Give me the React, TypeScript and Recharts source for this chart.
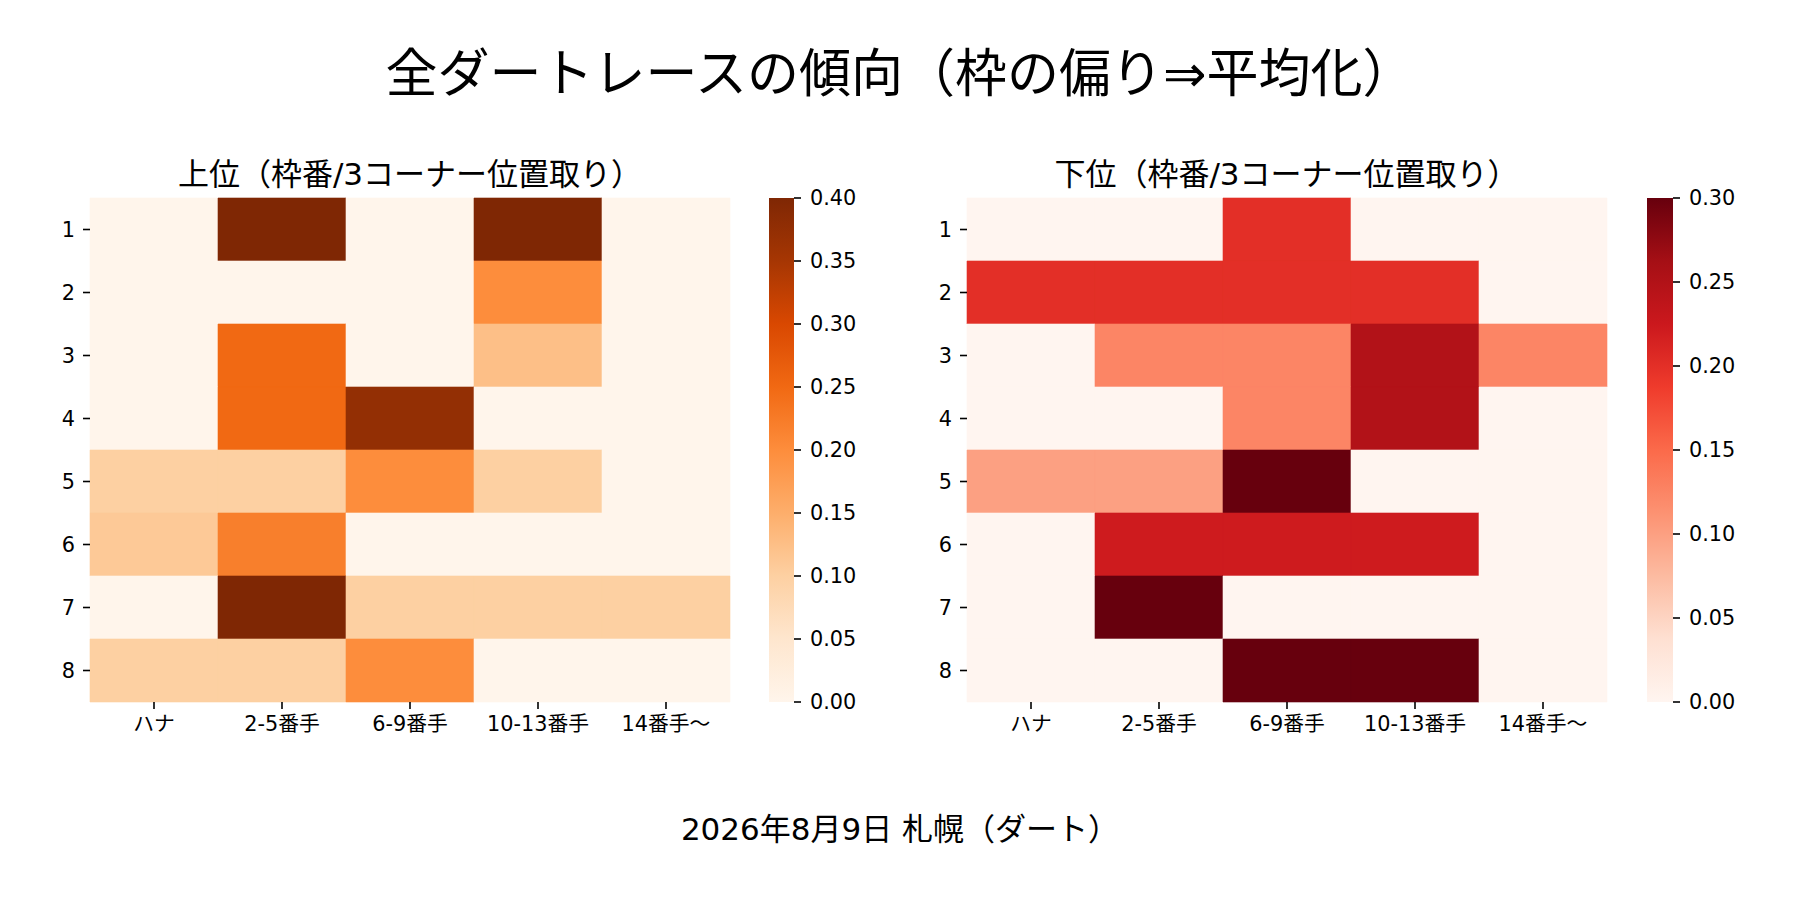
import React from 'react';
import { ScatterChart, Scatter, XAxis, YAxis, ReferenceArea, BarChart, Bar } from 'recharts';

// ---- categories / tick labels ----
const positionLabels = ['ハナ', '2-5番手', '6-9番手', '10-13番手', '14番手〜'];
const gateLabels = ['1', '2', '3', '4', '5', '6', '7', '8'];
const topTicks = [0, 0.05, 0.1, 0.15, 0.2, 0.25, 0.3, 0.35, 0.4];
const bottomTicks = [0, 0.05, 0.1, 0.15, 0.2, 0.25, 0.3];
const topMax = 0.4;
const bottomMax = 0.3;

// ---- 上位 values (rows = 枠番 1..8, cols = position) ----
const topGate1 = [0, 0.4, 0, 0.4, 0];
const topGate2 = [0, 0, 0, 0.2, 0];
const topGate3 = [0, 0.25, 0, 0.125, 0];
const topGate4 = [0, 0.25, 0.375, 0, 0];
const topGate5 = [0.1, 0.1, 0.2, 0.1, 0];
const topGate6 = [0.11, 0.22, 0, 0, 0];
const topGate7 = [0, 0.4, 0.1, 0.1, 0.1];
const topGate8 = [0.1, 0.1, 0.2, 0, 0];

// ---- 下位 values ----
const bottomGate1 = [0, 0, 0.2, 0, 0];
const bottomGate2 = [0.2, 0.2, 0.2, 0.2, 0];
const bottomGate3 = [0, 0.125, 0.125, 0.25, 0.125];
const bottomGate4 = [0, 0, 0.125, 0.25, 0];
const bottomGate5 = [0.1, 0.1, 0.3, 0, 0];
const bottomGate6 = [0, 0.222, 0.222, 0.222, 0];
const bottomGate7 = [0, 0.3, 0, 0, 0];
const bottomGate8 = [0, 0, 0.3, 0.3, 0];

const topRows = [topGate1, topGate2, topGate3, topGate4, topGate5, topGate6, topGate7, topGate8];
const bottomRows = [bottomGate1, bottomGate2, bottomGate3, bottomGate4, bottomGate5, bottomGate6, bottomGate7, bottomGate8];

// ---- colormaps (matplotlib Oranges / Reds) ----
const orangesStops = ['#fff5eb', '#fee6ce', '#fdd0a2', '#fdae6b', '#fd8d3c', '#f16913', '#d94801', '#a63603', '#7f2704'];
const redsStops = ['#fff5f0', '#fee0d2', '#fcbba1', '#fc9272', '#fb6a4a', '#ef3b2c', '#cb181d', '#a50f15', '#67000d'];

function hexToRgb(h: string) {
  return [parseInt(h.slice(1, 3), 16), parseInt(h.slice(3, 5), 16), parseInt(h.slice(5, 7), 16)];
}
function cmap(stops: string[], t: number) {
  const tt = Math.max(0, Math.min(1, t));
  const pos = tt * (stops.length - 1);
  const i = Math.min(stops.length - 2, Math.floor(pos));
  const f = pos - i;
  const a = hexToRgb(stops[i]);
  const b = hexToRgb(stops[i + 1]);
  const c = a.map((v, k) => Math.round(v + (b[k] - v) * f));
  return `rgb(${c[0]},${c[1]},${c[2]})`;
}

const FONT = "'DejaVu Sans', 'Noto Sans CJK JP', sans-serif";
const tickStyle = { fill: '#000', fontSize: 20.8, fontFamily: FONT };
const tickLineStyle = { stroke: '#000', strokeWidth: 1.6 };

function Heatmap({ rows, vmax, stops, left }: { rows: number[][]; vmax: number; stops: string[]; left: number }) {
  const cells: { x: number; y: number; c: number; r: number; v: number }[] = [];
  rows.forEach((row, r) => row.forEach((v, c) => cells.push({ x: c + 0.5, y: r + 0.5, c, r, v })));
  return (
    <div style={{ position: 'absolute', left, top: 150 }}>
      <ScatterChart width={760} height={620} margin={{ top: 48, right: 30, bottom: 8, left: 40 }}>
        <XAxis
          type="number"
          dataKey="x"
          domain={[0, positionLabels.length]}
          ticks={positionLabels.map((_, i) => i + 0.5)}
          tickFormatter={(t: number) => positionLabels[Math.floor(t)]}
          interval={0}
          height={60}
          axisLine={false}
          tickSize={7}
          tickMargin={7}
          tick={tickStyle}
          tickLine={tickLineStyle}
          allowDataOverflow
        />
        <YAxis
          type="number"
          dataKey="y"
          domain={[0, gateLabels.length]}
          reversed
          ticks={gateLabels.map((_, i) => i + 0.5)}
          tickFormatter={(t: number) => gateLabels[Math.floor(t)]}
          interval={0}
          width={50}
          axisLine={false}
          tickSize={7}
          tickMargin={8}
          tick={tickStyle}
          tickLine={tickLineStyle}
          allowDataOverflow
        />
        {cells.map((cell) => {
          const col = cmap(stops, cell.v / vmax);
          return (
            <ReferenceArea
              key={`${cell.r}-${cell.c}`}
              x1={cell.c}
              x2={cell.c + 1}
              y1={cell.r}
              y2={cell.r + 1}
              fill={col}
              fillOpacity={1}
              stroke={col}
              strokeWidth={0.6}
              ifOverflow="visible"
            />
          );
        })}
        <Scatter data={cells} isAnimationActive={false} shape={() => <g />} />
      </ScatterChart>
    </div>
  );
}

function Colorbar({ vmax, ticks, gradId, left, barWidth }: { vmax: number; ticks: number[]; gradId: string; left: number; barWidth: number }) {
  return (
    <div style={{ position: 'absolute', left, top: 150 }}>
      <BarChart
        width={barWidth + 80}
        height={620}
        data={[{ name: 'cb', v: vmax }]}
        margin={{ top: 48, right: 0, bottom: 68, left: 0 }}
        barCategoryGap={0}
      >
        <XAxis dataKey="name" hide />
        <YAxis
          orientation="right"
          type="number"
          domain={[0, vmax]}
          ticks={ticks}
          interval={0}
          width={80}
          axisLine={false}
          tickSize={7}
          tickMargin={9}
          tick={tickStyle}
          tickLine={tickLineStyle}
          tickFormatter={(t: number) => t.toFixed(2)}
          allowDataOverflow
        />
        <Bar dataKey="v" fill={`url(#${gradId})`} isAnimationActive={false} />
      </BarChart>
    </div>
  );
}

function Gradient({ id, stops }: { id: string; stops: string[] }) {
  return (
    <linearGradient id={id} x1="0" y1="1" x2="0" y2="0">
      {stops.map((s, i) => (
        <stop key={i} offset={`${(i / (stops.length - 1)) * 100}%`} stopColor={s} />
      ))}
    </linearGradient>
  );
}

export default function App() {
  return (
    <div
      style={{
        position: 'absolute',
        left: 0,
        top: 0,
        width: 1800,
        height: 900,
        background: '#fff',
        fontFamily: FONT,
        color: '#000',
        overflow: 'hidden',
      }}
    >
      <svg width={0} height={0} style={{ position: 'absolute' }}>
        <defs>
          <Gradient id="orangesGrad" stops={orangesStops} />
          <Gradient id="redsGrad" stops={redsStops} />
        </defs>
      </svg>
      <div style={{ position: 'absolute', left: 0, top: 48, width: 1800, textAlign: 'center', fontSize: 52, lineHeight: '52px', whiteSpace: 'nowrap' }}>
        全ダートレースの傾向（枠の偏り⇒平均化）
      </div>
      <div style={{ position: 'absolute', left: 90, top: 159, width: 640, textAlign: 'center', fontSize: 31, lineHeight: '31px', whiteSpace: 'nowrap' }}>
        上位（枠番/3コーナー位置取り）
      </div>
      <div style={{ position: 'absolute', left: 967, top: 159, width: 639, textAlign: 'center', fontSize: 31, lineHeight: '31px', whiteSpace: 'nowrap' }}>
        下位（枠番/3コーナー位置取り）
      </div>
      <Heatmap rows={topRows} vmax={topMax} stops={orangesStops} left={0} />
      <Colorbar vmax={topMax} ticks={topTicks} gradId="orangesGrad" left={769} barWidth={25} />
      <Heatmap rows={bottomRows} vmax={bottomMax} stops={redsStops} left={877} />
      <Colorbar vmax={bottomMax} ticks={bottomTicks} gradId="redsGrad" left={1647} barWidth={26} />
      <div style={{ position: 'absolute', left: 0, top: 814, width: 1800, textAlign: 'center', fontSize: 31, lineHeight: '31px', whiteSpace: 'nowrap' }}>
        2026年8月9日 札幌（ダート）
      </div>
    </div>
  );
}
